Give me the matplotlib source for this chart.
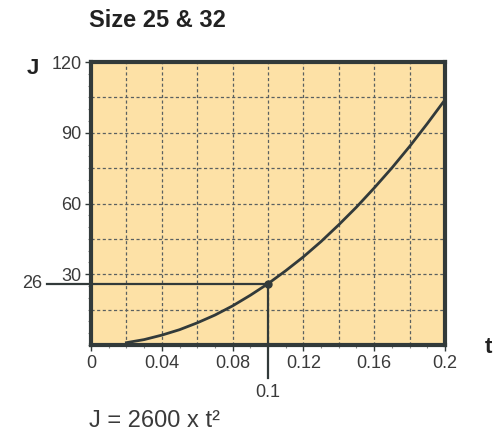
import matplotlib.pyplot as plt
from matplotlib.ticker import MultipleLocator

plt.rcParams['font.family'] = ['Liberation Sans', 'DejaVu Sans']

t = [0.02, 0.03, 0.04, 0.05, 0.06, 0.07, 0.08, 0.09, 0.10, 0.11,
     0.12, 0.13, 0.14, 0.15, 0.16, 0.17, 0.18, 0.19, 0.20]
J = [1.0, 2.3, 4.2, 6.5, 9.4, 12.7, 16.6, 21.1, 26.0, 31.5,
     37.4, 43.9, 51.0, 58.5, 66.6, 75.1, 84.2, 93.9, 104.0]

x_ticks = [0, 0.04, 0.08, 0.12, 0.16, 0.2]
x_labels = ['0', '0.04', '0.08', '0.12', '0.16', '0.2']
y_ticks = [30, 60, 90, 120]
y_labels = ['30', '60', '90', '120']
mark_t = 0.1
mark_J = 26

dark = '#323a3a'
fill = '#fde1a6'
txt = '#3a3a3a'

fig = plt.figure(figsize=(4.93, 4.34), dpi=100)
ax = fig.add_axes([0.1846, 0.205, 0.718, 0.652])
ax.set_facecolor(fill)
ax.set_xlim(0, 0.2)
ax.set_ylim(0, 120)

# dashed grid
for gx in [0.02 * i for i in range(1, 10)]:
    ax.axvline(gx, color='#5a6060', lw=0.9, ls=(0, (2.5, 2)), zorder=1)
for gy in [15 * i for i in range(1, 8)]:
    ax.axhline(gy, color='#5a6060', lw=0.9, ls=(0, (2.5, 2)), zorder=1)

ax.plot(t, J, color=dark, lw=2, zorder=3, clip_on=False)

# marker lines at t = 0.1, J = 26 extending outside the axes
ax.plot([-0.0249, mark_t], [mark_J, mark_J], color=dark, lw=1.6,
        clip_on=False, zorder=3)
ax.plot([mark_t, mark_t], [mark_J, -14], color=dark, lw=1.6,
        clip_on=False, zorder=3)
ax.plot(mark_t, mark_J, 'o', color=dark, ms=5, zorder=4)
ax.text(-0.0275, mark_J, '26', ha='right', va='center', fontsize=13,
        color=txt)
ax.text(mark_t, -16.5, '0.1', ha='center', va='top', fontsize=13,
        color=txt)

for s in ax.spines.values():
    s.set_color(dark)
    s.set_linewidth(3)

ax.set_xticks(x_ticks)
ax.set_xticklabels(x_labels)
ax.set_yticks(y_ticks)
ax.set_yticklabels(y_labels)
ax.xaxis.set_minor_locator(MultipleLocator(0.01))
ax.yaxis.set_minor_locator(MultipleLocator(5))
ax.tick_params(which='major', length=4, width=1, color=dark,
               labelsize=13, labelcolor=txt, pad=3)
ax.tick_params(which='minor', length=2, width=0.8, color='#888888')

fig.text(0.181, 0.953, 'Size 25 & 32', fontsize=17, fontweight='bold',
         color='#222222', va='center')
fig.text(0.055, 0.843, 'J', fontsize=16, fontweight='bold', color='#222222',
         va='center')
fig.text(0.998, 0.2, 't', fontsize=16, fontweight='bold', color='#222222',
         va='center', ha='right')
fig.text(0.181, 0.03, 'J = 2600 x t\u00b2', fontsize=17, color=txt,
         va='center')

fig.savefig('out.png', dpi=100)
